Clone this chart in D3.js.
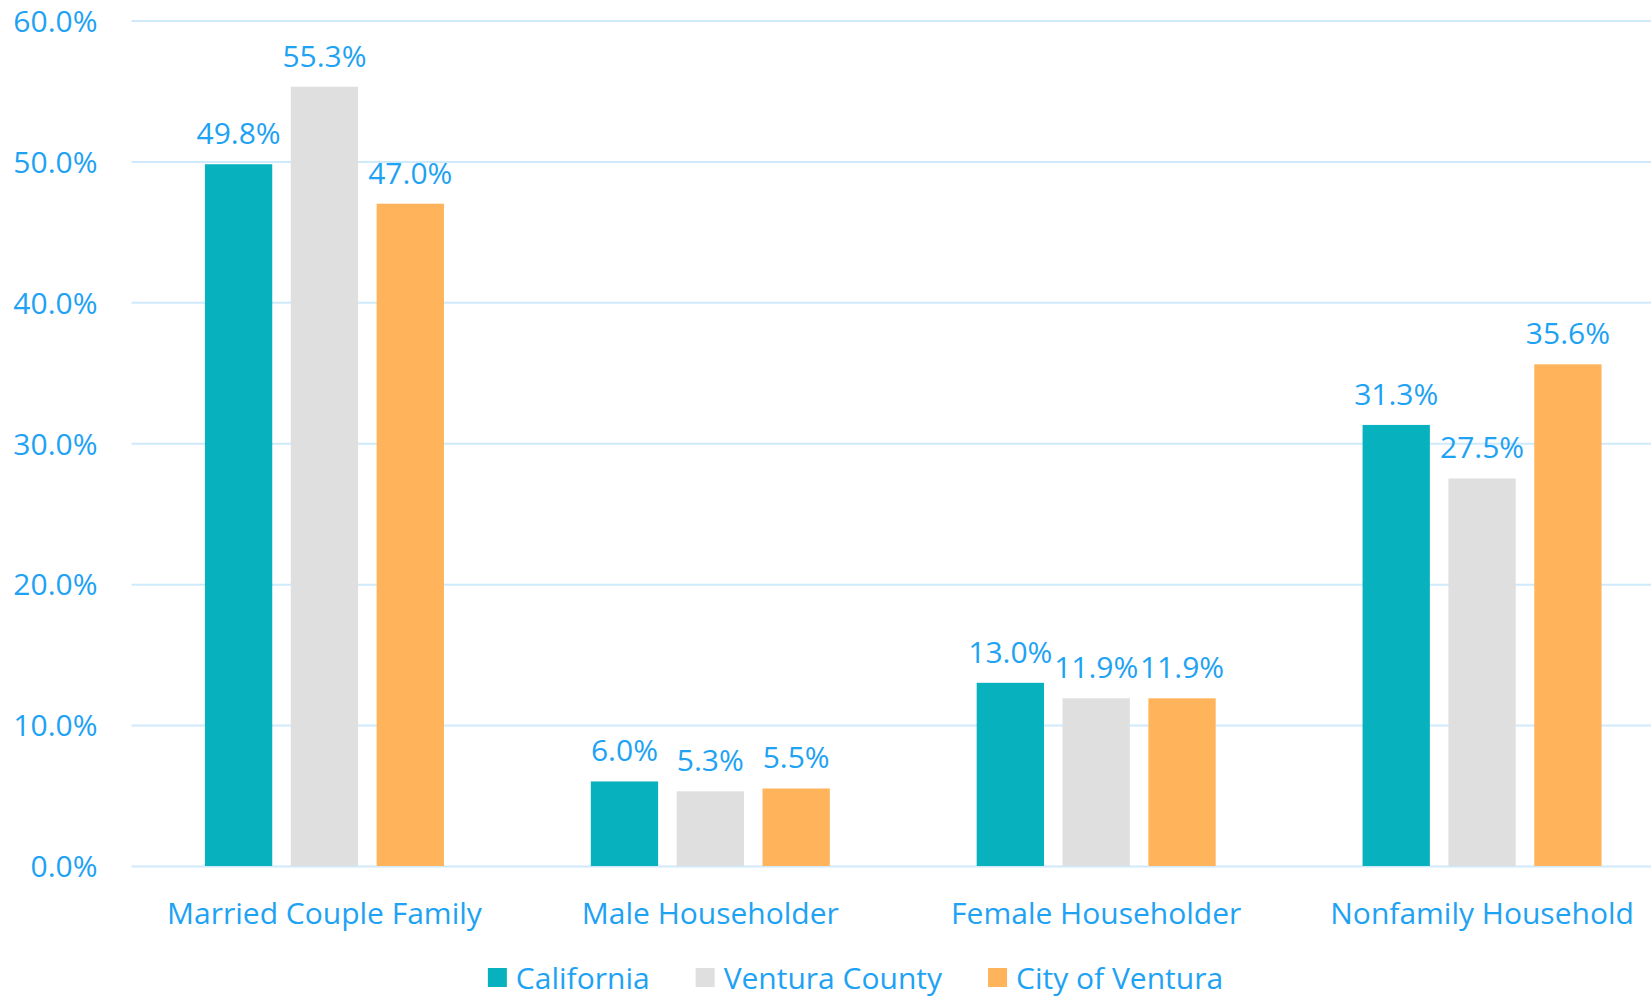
<!DOCTYPE html>
<html><head><meta charset="utf-8">
<script src="https://cdn.jsdelivr.net/npm/d3@7"></script>
<style>
html,body{margin:0;padding:0;background:#fff;overflow:hidden}
text{font-family:"Open Sans","Noto Sans",sans-serif}
</style></head>
<body><svg id="c" width="1651" height="997"></svg>
<script>
const categories = ["Married Couple Family","Male Householder","Female Householder","Nonfamily Household"];
const seriesNames = ["California","Ventura County","City of Ventura"];
const california = [49.8, 6.0, 13.0, 31.3];
const venturaCounty = [55.3, 5.3, 11.9, 27.5];
const cityOfVentura = [47.0, 5.5, 11.9, 35.6];
const yTicks = [0,10,20,30,40,50,60];
const colors = ["#07B1BD","#DFDFDF","#FFB35A"];

const seriesValues = [california, venturaCounty, cityOfVentura];
const textColor = "#1EA2F3";
const gridColor = "#CFEAFB";
const fs = 30;

const svg = d3.select("#c");
const y = d3.scaleLinear().domain([0,60]).range([866,20.5]);
const x0 = d3.scaleBand().domain(categories).range([131.5,1675]).padding(0);
const groupW = 239;
const x1 = d3.scaleBand().domain(seriesNames).range([-groupW/2, groupW/2]).paddingInner(0.216).paddingOuter(0);

// grid
const yAxis = d3.axisLeft(y).tickValues(yTicks).tickSize(-(1651-131.5)).tickPadding(34)
  .tickFormat(d => d3.format(".1f")(d) + "%");
const ga = svg.append("g").attr("transform","translate(131.5,0)").call(yAxis);
ga.select(".domain").remove();
ga.selectAll(".tick line").attr("stroke",gridColor).attr("stroke-width",2);
ga.selectAll(".tick text").attr("fill",textColor).attr("font-size",fs).attr("dy","0.36em")
  .attr("font-family","'Open Sans','Noto Sans',sans-serif");

// bars
const groups = svg.append("g").selectAll("g").data(categories).join("g")
  .attr("transform", c => `translate(${x0(c)+x0.bandwidth()/2},0)`);
groups.each(function(c, ci){
  const g = d3.select(this);
  const data = seriesNames.map((s,si)=>({s, si, v: seriesValues[si][ci]}));
  g.selectAll("rect").data(data).join("rect")
    .attr("x", d=>x1(d.s)).attr("width", x1.bandwidth())
    .attr("y", d=>y(d.v)).attr("height", d=>y(0)-y(d.v))
    .attr("fill", d=>colors[d.si]);
  g.selectAll("text.val").data(data).join("text").attr("class","val")
    .attr("x", d=>x1(d.s)+x1.bandwidth()/2).attr("y", d=>y(d.v)-20)
    .attr("text-anchor","middle").attr("fill",textColor).attr("font-size",fs)
    .text(d=>d.v.toFixed(1)+"%");
});

// x axis labels
const xAxis = d3.axisBottom(x0).tickSize(0).tickPadding(0);
const gx = svg.append("g").attr("transform","translate(0,866)").call(xAxis);
gx.select(".domain").remove();
gx.selectAll(".tick text").attr("fill",textColor).attr("font-size",fs)
  .attr("font-family","'Open Sans','Noto Sans',sans-serif").attr("dy",0).attr("y",58);

// legend
const lg = svg.append("g");
let cx = 0;
seriesNames.forEach((s,i)=>{
  const it = lg.append("g");
  it.append("rect").attr("x",0).attr("y",-21).attr("width",19).attr("height",19).attr("fill",colors[i]);
  const t = it.append("text").attr("x",28).attr("y",0).attr("fill",textColor).attr("font-size",fs).text(s);
  const w = 28 + t.node().getComputedTextLength();
  it.attr("transform",`translate(${cx},0)`);
  cx += w + 46;
});
const totalW = cx - 46;
lg.attr("transform",`translate(${855.5-totalW/2},989)`);
</script></body></html>
